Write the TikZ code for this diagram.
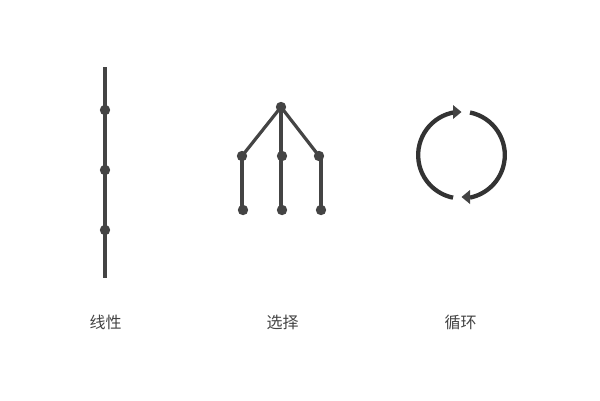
\documentclass[tikz,border=0pt]{standalone}
\usepackage{fontspec}
\setmainfont{Liberation Sans}
\newfontfamily\cjk{Noto Sans CJK SC}
\definecolor{ink}{HTML}{444444}
\definecolor{ringink}{HTML}{333333}
\tikzset{
  dotnode/.style={circle,fill=ink,draw=none,inner sep=0pt,minimum size=10.4pt},
  link/.style={draw=ink,line width=3.2pt},
  ring/.style={draw=ringink,line width=4.3pt},
  headtip/.style={fill=ink,draw=none},
  caption/.style={font=\cjk\fontsize{16pt}{18pt}\selectfont,text=ink,inner sep=0pt,anchor=center}
}
\begin{document}
\begin{tikzpicture}[x=1pt,y=-1pt]
\useasboundingbox (0,0) rectangle (600,400);
% linear
\coordinate (ltop) at (105,67);
\coordinate (lbot) at (105,278);
\draw[link] (ltop) -- (lbot);
\node[dotnode] (l1) at (105,110) {};
\node[dotnode] (l2) at (105,170) {};
\node[dotnode] (l3) at (105,230) {};
% choice
\node[dotnode] (root) at (281,107) {};
\node[dotnode] (a1) at (242,156) {};
\node[dotnode] (a2) at (282,156) {};
\node[dotnode] (a3) at (319,156) {};
\node[dotnode] (b1) at (243,210) {};
\node[dotnode] (b2) at (282,210) {};
\node[dotnode] (b3) at (321,210) {};
\draw[link] (root.center) -- (a1.center);
\draw[link] (root.center) -- (a3.center);
\draw[link] (root.center) -- (root.center |- b2.center);
\draw[link] (a1.center) -- (a1.center |- b1.center);
\draw[link] (b3.center |- a3.center) -- (b3.center);
% loop
\coordinate (cc) at (461.5,155);
\draw[ring] (455,112.2) arc[start angle=-98.7,end angle=-258.7,radius=43.4];
\draw[ring] (470,112.5) arc[start angle=-78.6,end angle=78.6,radius=43.4];
\fill[headtip] (453,105) -- (461.5,112) -- (453,119) -- cycle;
\fill[headtip] (470,190) -- (461.5,197) -- (470,204) -- cycle;
% captions
\node[caption] (t1) at (105.5,322.5) {线性};
\node[caption] (t2) at (282.5,322.5) {选择};
\node[caption] (t3) at (460.5,322.5) {循环};
\end{tikzpicture}
\end{document}
